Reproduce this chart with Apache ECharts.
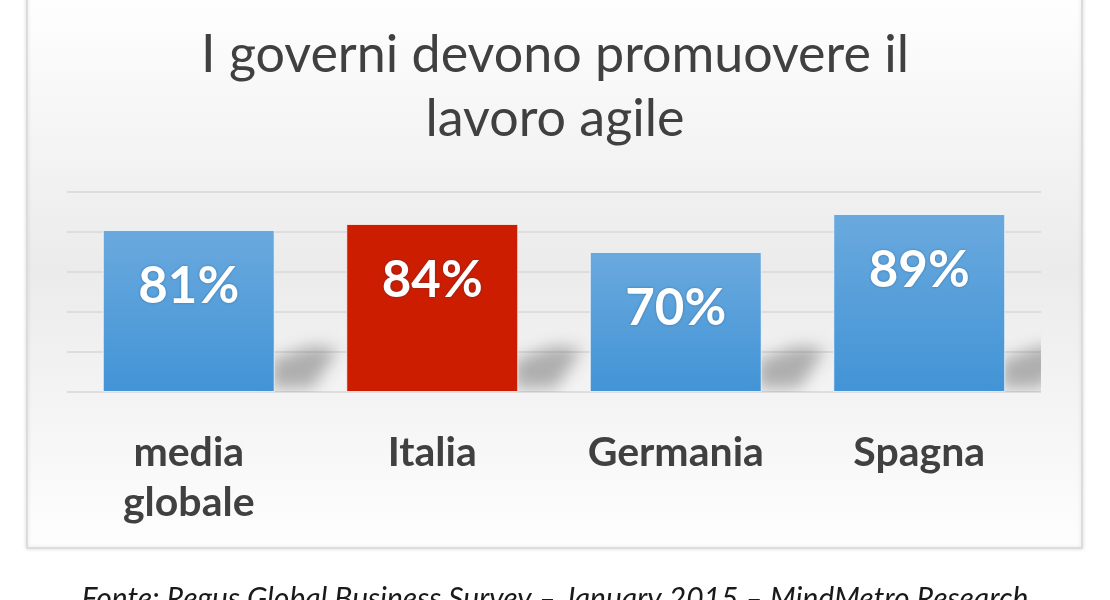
<!DOCTYPE html>
<html><head><meta charset="utf-8">
<script src="https://cdn.jsdelivr.net/npm/echarts@6/dist/echarts.min.js"></script>
<style>html,body{margin:0;padding:0;background:#fff}#c{width:1110px;height:600px}</style>
</head><body><div id="c"></div>
<script>
var titleText = 'I governi devono promuovere il\nlavoro agile';
var categories = ['media globale', 'Italia', 'Germania', 'Spagna'];
var values = [81, 84, 70, 89];
var highlight = [false, true, false, false];
var yTicks = [0, 20, 40, 60, 80, 100];
var sourceText = 'Fonte: Regus Global Business Survey \u2013 January 2015 \u2013 MindMetro Research';

var chart = echarts.init(document.getElementById('c'));
var BAR_FRAC = 0.706;
var blueGrad = new echarts.graphic.LinearGradient(0, 0, 0, 1, [
  {offset: 0, color: '#6aa9de'}, {offset: 1, color: '#4294d6'}]);
var redGrad = '#cc1d00';
var OFF = 3000;

chart.setOption({
  backgroundColor: '#ffffff',
  graphic: [{
    type: 'rect', z: -10, silent: true,
    shape: {x: 27, y: -10, width: 1055, height: 558},
    style: {
      fill: new echarts.graphic.LinearGradient(0, 0, 0, 1, [
        {offset: 0, color: '#ffffff'}, {offset: 0.5, color: '#ebebeb'}, {offset: 1, color: '#fefefe'}]),
      stroke: '#dcdcdc', lineWidth: 2,
      shadowColor: 'rgba(0,0,0,0.12)', shadowBlur: 4
    }
  }],
  title: [{
    text: titleText, left: 'center', top: 18,
    textStyle: {fontFamily: 'Lato', fontWeight: 'normal', fontSize: 52, color: '#404040', lineHeight: 64}
  }, {
    text: sourceText, left: 'center', top: 579,
    textStyle: {fontFamily: 'Lato', fontStyle: 'italic', fontWeight: 'normal', fontSize: 30, color: '#1a1a1a'}
  }],
  grid: {left: 67, right: 69, top: 192, bottom: 208},
  xAxis: {
    type: 'category', data: categories,
    axisLine: {show: false}, axisTick: {show: false},
    axisLabel: {
      margin: 36, fontFamily: 'Lato', fontWeight: 'bold', fontSize: 41, color: '#404040', lineHeight: 50,
      formatter: function (v) { return v.replace(' ', '\n'); }
    }
  },
  yAxis: {
    type: 'value', min: yTicks[0], max: yTicks[yTicks.length - 1], interval: yTicks[1] - yTicks[0],
    axisLabel: {show: false}, axisLine: {show: false}, axisTick: {show: false},
    splitLine: {lineStyle: {color: '#dddddd', width: 2}}
  },
  series: [{
    type: 'custom', z: 1, silent: true,
    data: values.map(function (v, i) { return [i, v]; }),
    clip: true,
    renderItem: function (params, api) {
      var p = api.coord([api.value(0), 0]);
      var bw = api.size([1, 0])[0] * BAR_FRAC;
      var xr = p[0] + bw / 2 - 4, y0 = p[1];
      return {
        type: 'polygon',
        shape: {points: [[xr - OFF, y0 - 3], [xr - OFF, y0 - 32], [xr + 40 - OFF, y0 - 46], [xr + 68 - OFF, y0 - 43], [xr + 42 - OFF, y0 - 4]]},
        style: {
          fill: '#000',
          shadowBlur: 16, shadowOffsetX: OFF, shadowOffsetY: 0,
          shadowColor: 'rgba(80,80,80,0.42)'
        }
      };
    }
  }, {
    type: 'bar', z: 3,
    barCategoryGap: '29.4%',
    data: values.map(function (v, i) {
      return {value: v, itemStyle: {color: highlight[i] ? redGrad : blueGrad}};
    }),
    itemStyle: {borderColor: 'rgba(255,255,255,0.7)', borderWidth: 1},
    label: {
      show: true, position: 'insideTop', distance: 31,
      formatter: '{c}%', fontFamily: 'Lato', fontWeight: 'bold', fontSize: 51, color: '#ffffff',
      textShadowColor: 'rgba(0,40,90,0.35)', textShadowBlur: 3
    }
  }]
});
</script></body></html>
